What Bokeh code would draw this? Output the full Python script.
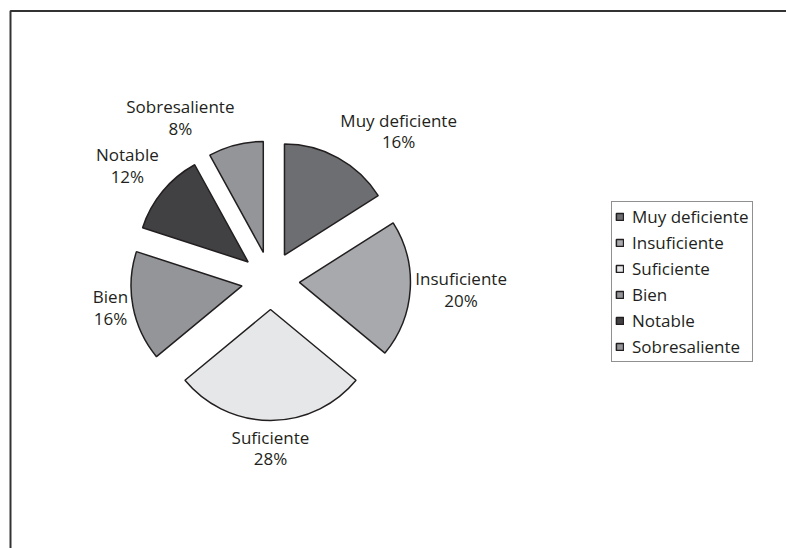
import math
from bokeh.plotting import figure
from bokeh.models import ColumnDataSource, Range1d
from bokeh.core.properties import value
from bokeh.embed import file_html
from bokeh.resources import INLINE

# ---- data ----
categories = ["Muy deficiente", "Insuficiente", "Suficiente", "Bien", "Notable", "Sobresaliente"]
percents = [16, 20, 28, 16, 12, 8]
colors = ["#6d6e71", "#a7a9ac", "#e6e7e8", "#939598", "#414042", "#939598"]

# ---- layout (canvas pixels; y measured upward from canvas bottom) ----
W, H = 786, 548
CX, CY = 270, 268      # pie centre
R = 111                # radius
EXPLODE = 29           # explosion distance
GAP = 5                # label gap from arc
FONT = "Open Sans"
FSIZE = "17px"
INK = "#231f20"

total = float(sum(percents))
starts, ends, xs, ys, lx, ly, anchors, labels = [], [], [], [], [], [], [], []
cum = 0.0
for name, v in zip(categories, percents):
    a_hi = math.pi / 2 - 2 * math.pi * cum / total
    cum += v
    a_lo = math.pi / 2 - 2 * math.pi * cum / total
    mid = (a_hi + a_lo) / 2
    ex = CX + EXPLODE * math.cos(mid)
    ey = CY + EXPLODE * math.sin(mid)
    starts.append(a_lo)
    ends.append(a_hi)
    xs.append(ex)
    ys.append(ey)
    c, s = math.cos(mid), math.sin(mid)
    lx.append(ex + (R + GAP) * c)
    ly.append(ey + (R + GAP) * s)
    h = "left" if c > 0.2 else ("right" if c < -0.2 else "center")
    vv = "bottom" if s > 0.3 else ("top" if s < -0.3 else "center")
    if vv == "center" and h == "center":
        anchors.append("center")
    elif vv == "center":
        anchors.append("center_" + h)
    elif h == "center":
        anchors.append(vv + "_center")
    else:
        anchors.append(vv + "_" + h)
    labels.append(f"{name}\n{v}%")

src = ColumnDataSource(dict(name=categories, x=xs, y=ys, start=starts, end=ends,
                            color=colors))
lsrc = ColumnDataSource(dict(x=lx, y=ly, text=labels, anchor=anchors))

p = figure(width=W, height=H, x_range=Range1d(0, W), y_range=Range1d(0, H),
           output_backend="svg", toolbar_location=None, min_border=0)
p.axis.visible = False
p.grid.visible = False
p.outline_line_color = None
p.background_fill_color = "white"
p.border_fill_color = "white"

# outer frame (left and top edges visible)
p.line(x=[10, 10, W + 10], y=[-10, 537.5, 537.5], line_color="#333333", line_width=2)

p.wedge(x="x", y="y", radius=R, start_angle="start", end_angle="end",
        fill_color="color", line_color=INK, line_width=1.5, source=src,
        legend_field="name")

p.text(x="x", y="y", text="text", anchor="anchor", text_align="center",
       text_font=value(FONT), text_font_size=FSIZE, text_color=INK,
       text_line_height=0.95, source=lsrc)

lg = p.legend[0]
lg.location = (611, 186)
lg.border_line_color = INK
lg.border_line_width = 1
lg.background_fill_alpha = 1
lg.padding = 3
lg.margin = 0
lg.spacing = 3
lg.label_height = 20
lg.glyph_height = 9
lg.glyph_width = 9
lg.label_standoff = 8
lg.label_text_font = FONT
lg.label_text_font_size = FSIZE
lg.label_text_color = INK

open("out.html", "w").write(file_html(p, INLINE))
